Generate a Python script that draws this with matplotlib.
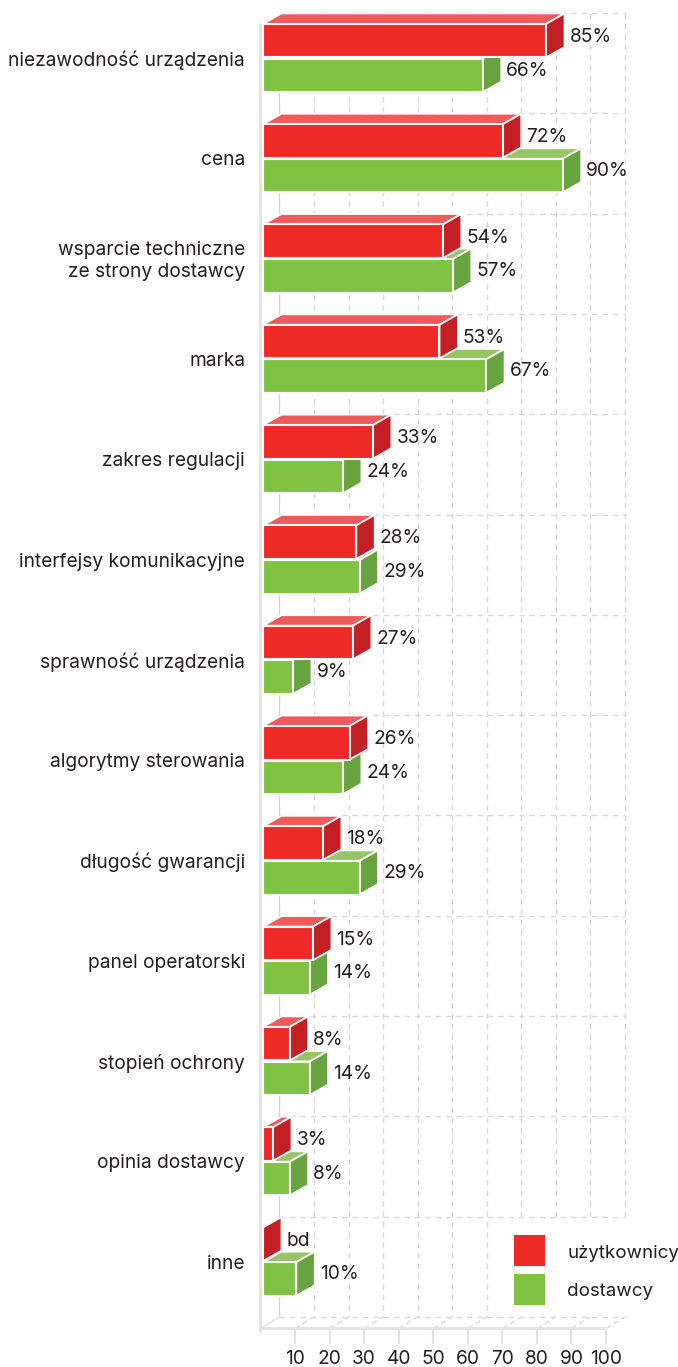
import matplotlib
matplotlib.use('Agg')
import matplotlib.pyplot as plt
import numpy as np

plt.rcParams['font.family'] = ['Inter', 'DejaVu Sans']

# survey results, percent of answers
categories = ['niezawodność urządzenia', 'cena', 'wsparcie techniczne\nze strony dostawcy', 'marka',
              'zakres regulacji', 'interfejsy komunikacyjne', 'sprawność urządzenia', 'algorytmy sterowania',
              'długość gwarancji', 'panel operatorski', 'stopień ochrony', 'opinia dostawcy', 'inne']
users = [85, 72, 54, 53, 33, 28, 27, 26, 18, 15, 8, 3, 0]
suppliers = [66, 90, 57, 67, 24, 29, 9, 24, 29, 14, 14, 8, 10]
users_labels = ['85%', '72%', '54%', '53%', '33%', '28%', '27%', '26%', '18%', '15%', '8%', '3%', 'bd']
suppliers_labels = ['66%', '90%', '57%', '67%', '24%', '29%', '9%', '24%', '29%', '14%', '14%', '8%', '10%']
ticks = [10, 20, 30, 40, 50, 60, 70, 80, 90, 100]
legend_names = ['użytkownicy', 'dostawcy']

W, H = 678, 1367
TEXT = '#231f20'
RED = ('#ee2a27', '#f05a5b', '#c31f24')
GREEN = ('#80c342', '#96c567', '#67a33f')
GRID = '#d9d9d9'
AXIS = '#e2e2e2'
FS = 13.8

# pixel -> slot conversion for the shared vertical scale
y0, slot = 58.0, 100.3
ylim = (H - y0) / slot, -y0 / slot
depth_y = 10.5 / slot
wall_top = -45 / slot
floor_back = wall_top + len(categories)
floor_front = floor_back + depth_y * 1.1

fig = plt.figure(figsize=(W / 100, H / 100), dpi=100)

# the grid box runs on a slightly wider scale than the bars
ax_grid = fig.add_axes([0, 0, 1, 1])
g0, gs = 260.5, 3.455
ax_grid.set_xlim(-g0 / gs, (W - g0) / gs)
ax_grid.set_ylim(*ylim)
ax_grid.axis('off')
gdx = 19 / gs

dash = (0, (4, 3.5))
# back wall
for i in range(len(categories)):
    ax_grid.hlines(wall_top + i, gdx, 100 + gdx, color=GRID, lw=1, ls=dash)
ax_grid.hlines(floor_back, gdx, 98.5 + gdx, color=GRID, lw=1, ls=dash)
for t in ticks:
    # the legend sits over the lower right part of the wall
    bottom = floor_back if t <= 60 else wall_top + 12
    ax_grid.vlines(t + gdx, wall_top, bottom, color=GRID, lw=1, ls=dash)
ax_grid.vlines(gdx, wall_top, floor_back, color='#d4d4d4', lw=1)
# floor
for t in ticks:
    ax_grid.plot([t, t + gdx], [floor_front, floor_back], color=GRID, lw=1, ls=(0, (4, 2.5)))
    ax_grid.vlines(t, floor_front, floor_front + 16 / slot, color=AXIS, lw=1.6)
    ax_grid.text(t, floor_front + 31 / slot, str(t), ha='center', va='center', fontsize=FS, color=TEXT)
ax_grid.plot([0, gdx], [floor_front, floor_back], color=AXIS, lw=1.2)
ax_grid.hlines(floor_front, 0, 100, color=AXIS, lw=2)
ax_grid.vlines(0, wall_top + depth_y, floor_front + 4 / slot, color=AXIS, lw=2)

ax = fig.add_axes([0, 0, 1, 1])
b0, bs = 263.0, 3.33
ax.set_xlim(-b0 / bs, (W - b0) / bs)
ax.set_ylim(*ylim)
ax.axis('off')
ax.patch.set_alpha(0)
dx = 18.5 / bs
dy = depth_y


def box(value, top, height, colors, z):
    front, upper, side = colors
    bottom = top + height
    ax.fill([0, dx, value + dx, value], [top, top - dy, top - dy, top], fc=upper, ec='white', lw=1.3, zorder=z)
    ax.fill([value, value + dx, value + dx, value], [top, top - dy, bottom - dy, bottom], fc=side, ec='white', lw=1.3, zorder=z)
    ax.barh(top + height / 2, value, height, left=0, color=front, ec='white', lw=1.5, zorder=z)


h = 0.335
for i, name in enumerate(categories):
    # suppliers first, users bar overlaps its top face
    box(suppliers[i], i + 0.005, h, GREEN, 2)
    box(users[i], i - h - 0.005, h, RED, 3)
    ax.text(users[i] + dx + 5 / bs, i - 0.21, users_labels[i], ha='left', va='center', fontsize=FS, color=TEXT, zorder=5)
    ax.text(suppliers[i] + dx + 5 / bs, i + 0.125, suppliers_labels[i], ha='left', va='center', fontsize=FS, color=TEXT, zorder=5)
    ax.text((245 - b0) / bs, i + 0.02, name, ha='right', va='center', fontsize=FS,
            color=TEXT, linespacing=1.3, zorder=5)

# legend
fig.patches.extend([
    plt.Rectangle((514 / W, 1 - 1266 / H), 31 / W, 31 / H, transform=fig.transFigure, fc=RED[0], ec='none'),
    plt.Rectangle((514 / W, 1 - 1305 / H), 31 / W, 31 / H, transform=fig.transFigure, fc=GREEN[0], ec='none'),
])
fig.text(567.5 / W, 1 - 1253 / H, legend_names[0], ha='left', va='center', fontsize=FS - 0.3, color=TEXT)
fig.text(567.5 / W, 1 - 1292 / H, legend_names[1], ha='left', va='center', fontsize=FS - 0.3, color=TEXT)

fig.savefig('out.png', dpi=100, facecolor='white')
